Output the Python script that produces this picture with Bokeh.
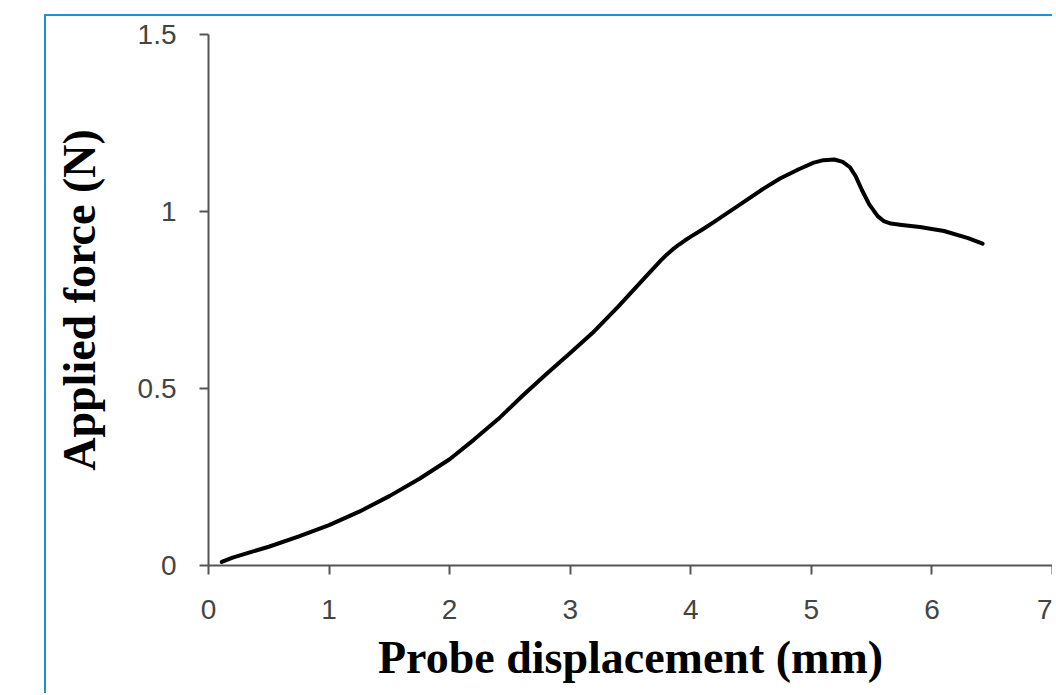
from bokeh.plotting import figure
from bokeh.embed import file_html
from bokeh.resources import INLINE
from bokeh.models import Range1d, FixedTicker, NumeralTickFormatter

# Data
displacement_mm = [0.11, 0.20, 0.35, 0.50, 0.75, 1.00, 1.25, 1.50, 1.75, 2.00,
                   2.20, 2.42, 2.60, 2.80, 3.00, 3.20, 3.40, 3.60, 3.70, 3.75,
                   3.80, 3.85, 3.90, 3.95, 4.00, 4.10, 4.20, 4.41, 4.60, 4.74,
                   4.90, 5.02, 5.10, 5.19, 5.26, 5.32, 5.37, 5.42, 5.48, 5.55,
                   5.60, 5.66, 5.75, 5.90, 6.10, 6.30, 6.42]
force_n = [0.010, 0.022, 0.038, 0.053, 0.082, 0.114, 0.152, 0.196, 0.245, 0.300,
           0.355, 0.419, 0.478, 0.540, 0.600, 0.662, 0.732, 0.806, 0.843, 0.861,
           0.878, 0.893, 0.906, 0.918, 0.929, 0.950, 0.972, 1.020, 1.064, 1.093,
           1.120, 1.138, 1.145, 1.147, 1.140, 1.125, 1.098, 1.060, 1.020, 0.987,
           0.973, 0.966, 0.962, 0.956, 0.945, 0.925, 0.909]
x_ticks = [0, 1, 2, 3, 4, 5, 6, 7]
y_ticks = [0, 0.5, 1, 1.5]

p = figure(width=1008, height=679, output_backend="svg", toolbar_location=None,
           x_range=Range1d(0, 7), y_range=Range1d(0, 1.5),
           min_border_left=162, min_border_right=2, min_border_top=18,
           min_border_bottom=130)
p.styles = {"margin-left": "44px", "margin-top": "14px",
            "border-left": "2px solid #1e90d8", "border-top": "2px solid #1e90d8"}

p.line(displacement_mm, force_n, line_color="black", line_width=4,
       line_join="round", line_cap="round")

p.outline_line_color = None
p.xgrid.visible = False
p.ygrid.visible = False
p.background_fill_color = "white"
p.border_fill_color = "white"

for ax in (p.xaxis[0], p.yaxis[0]):
    ax.axis_line_color = "#555555"
    ax.axis_line_width = 2
    ax.major_tick_line_color = "#555555"
    ax.major_tick_line_width = 2
    ax.major_tick_in = 0
    ax.major_tick_out = 9
    ax.minor_tick_line_color = None
    ax.major_label_text_font = "'Liberation Sans Narrow', 'Liberation Sans', sans-serif"
    ax.major_label_text_font_size = "28px"
    ax.major_label_text_color = "#444444"
    ax.axis_label_text_font = "Liberation Serif"
    ax.axis_label_text_font_style = "bold"
    ax.axis_label_text_font_size = "46px"
    ax.axis_label_text_color = "black"
    ax.formatter = NumeralTickFormatter(format="0.[0]")

p.xaxis[0].ticker = FixedTicker(ticks=x_ticks)
p.yaxis[0].ticker = FixedTicker(ticks=y_ticks)
p.xaxis[0].axis_label = "Probe displacement (mm)"
p.yaxis[0].axis_label = "Applied force (N)"
p.xaxis[0].major_label_standoff = 25
p.yaxis[0].major_label_standoff = 23
p.xaxis[0].axis_label_standoff = 10
p.yaxis[0].axis_label_standoff = 30

open("out.html", "w").write(file_html(p, INLINE))
